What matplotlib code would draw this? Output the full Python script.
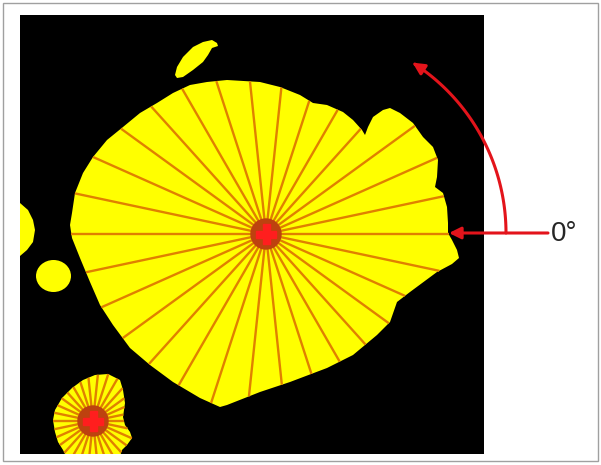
import numpy as np
import matplotlib
matplotlib.use("Agg")
import matplotlib.pyplot as plt
import matplotlib.patches as mpatches
from matplotlib.path import Path

# picture coordinates in pixels, y grows downwards
panel = (20, 15, 484, 454)  # left, top, right, bottom

# main blob outline and centre
main_x = [448, 452, 457, 459, 452, 437, 410, 397, 390, 377, 353, 327, 290,
          260, 227, 220, 200, 173, 150, 130, 113, 100, 90, 80, 72, 70, 72, 75,
          83, 93, 107, 123, 140, 157, 173, 190, 207, 227, 260, 280, 300, 313,
          327, 343, 353, 362, 365, 368, 373, 383, 390, 400, 413, 423, 433, 438,
          437, 435, 443, 447, 448]
main_y = [233, 240, 250, 258, 264, 272, 292, 302, 322, 335, 355, 368, 382,
          392, 405, 407, 398, 382, 365, 348, 325, 305, 282, 258, 238, 225, 213,
          193, 173, 157, 140, 127, 113, 103, 93, 85, 82, 80, 82, 87, 95, 103,
          105, 112, 120, 130, 135, 127, 117, 110, 108, 113, 123, 137, 147, 160,
          177, 187, 193, 207, 223]
main_centre = (266, 234)

# small blob at bottom left
small_x = [53, 55, 62, 72, 83, 95, 108, 120, 123, 125, 123, 125, 130, 132, 127,
           122, 120, 66, 63, 58, 55]
small_y = [420, 410, 398, 388, 380, 375, 374, 380, 390, 403, 417, 425, 432, 438,
           445, 450, 456, 456, 450, 442, 432]
small_centre = (93, 421)

# blobs without rays
top_x = [175, 177, 183, 193, 203, 212, 217, 218, 215, 212, 208, 203, 193, 183, 177]
top_y = [75, 67, 57, 47, 42, 40, 43, 46, 47, 48, 55, 62, 70, 77, 78]
edge_x = [18, 20, 28, 33, 35, 33, 27, 20, 18]
edge_y = [203, 203, 210, 220, 230, 242, 250, 256, 256]
round_blob = (53.5, 276, 17.5, 16)  # x, y, rx, ry

n_rays = 30
angle_label = "0°"

YELLOW = "#FFFF00"
RAY = "#E08000"
DISC = "#BD420F"
CROSS = "#FF1E1E"
ARROW = "#E3141B"


def ray_end(cx, cy, ang, xs, ys):
    # nearest crossing of the ray with the outline
    dx, dy = np.cos(ang), -np.sin(ang)
    best = 1e9
    n = len(xs)
    for i in range(n):
        x1, y1 = xs[i], ys[i]
        x2, y2 = xs[(i + 1) % n], ys[(i + 1) % n]
        ex, ey = x2 - x1, y2 - y1
        den = dx * ey - dy * ex
        if abs(den) < 1e-12:
            continue
        t = ((x1 - cx) * ey - (y1 - cy) * ex) / den
        u = ((x1 - cx) * dy - (y1 - cy) * dx) / den
        if t > 1 and 0 <= u <= 1 and t < best:
            best = t
    return cx + best * dx, cy + best * dy


def draw_blob(ax, xs, ys, clip, centre=None):
    poly = mpatches.Polygon(np.column_stack([xs, ys]), closed=True,
                            facecolor=YELLOW, edgecolor="none", zorder=2)
    ax.add_patch(poly)
    poly.set_clip_path(clip)
    if centre is None:
        return
    cx, cy = centre
    for k in range(n_rays):
        ang = np.deg2rad(360.0 * k / n_rays)
        ex, ey = ray_end(cx, cy, ang, xs, ys)
        ln, = ax.plot([cx, ex], [cy, ey], color=RAY, lw=1.7,
                      solid_capstyle="butt", zorder=3)
        ln.set_clip_path(clip)
    ax.add_patch(mpatches.Circle((cx, cy), 15, color=DISC, zorder=4))
    ax.add_patch(mpatches.Rectangle((cx - 10, cy - 3.5), 20, 7, color=CROSS, zorder=5))
    ax.add_patch(mpatches.Rectangle((cx - 3.5, cy - 10), 7, 20, color=CROSS, zorder=5))


fig = plt.figure(figsize=(6.01, 4.65), dpi=100)
ax = fig.add_axes([0, 0, 1, 1])
ax.set_xlim(0, 601)
ax.set_ylim(465, 0)
ax.axis("off")

ax.add_patch(mpatches.Rectangle((3, 3), 595, 458, facecolor="white",
                                edgecolor="#A0A0A0", lw=1.0, zorder=0))
l, t, r, b = panel
bg = mpatches.Rectangle((l, t), r - l, b - t, facecolor="black",
                        edgecolor="none", zorder=1)
ax.add_patch(bg)

draw_blob(ax, main_x, main_y, bg, main_centre)
draw_blob(ax, small_x, small_y, bg, small_centre)
draw_blob(ax, top_x, top_y, bg)
draw_blob(ax, edge_x, edge_y, bg)
rb = mpatches.Ellipse(round_blob[:2], 2 * round_blob[2], 2 * round_blob[3],
                      facecolor=YELLOW, edgecolor="none", zorder=2)
ax.add_patch(rb)

# rotation arrow
acx, acy, arad = 304, 233, 202
th = np.deg2rad(np.linspace(0, 57.5, 80))
arc = Path(np.column_stack([acx + arad * np.cos(th), acy - arad * np.sin(th)]))
ax.add_patch(mpatches.FancyArrowPatch(path=arc, arrowstyle="-|>,head_length=7,head_width=3.5",
                                      color=ARROW, lw=2.2, zorder=6))
ax.add_patch(mpatches.FancyArrowPatch((548, 233), (449, 233),
                                      arrowstyle="-|>,head_length=7,head_width=3.5",
                                      color=ARROW, lw=2.2, shrinkA=0, shrinkB=0, zorder=6))
ax.text(551, 234, angle_label, fontsize=20, family=["Liberation Sans", "DejaVu Sans"],
        color="#262626", ha="left", va="center", zorder=6)

fig.savefig("out.png", dpi=100)
